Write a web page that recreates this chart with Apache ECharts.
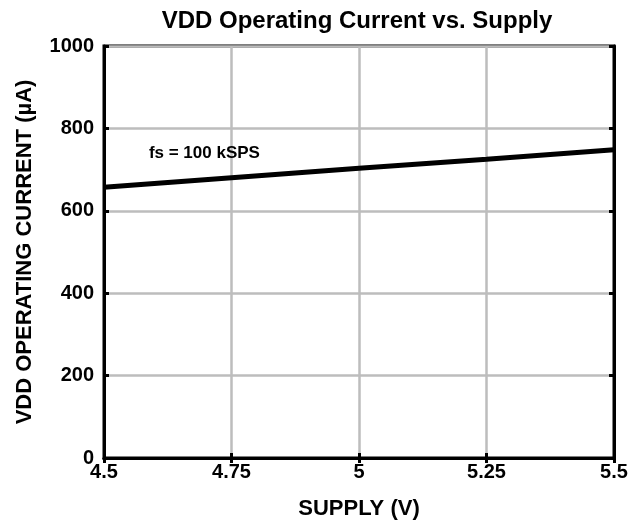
<!DOCTYPE html>
<html>
<head>
<meta charset="utf-8">
<script src="https://cdn.jsdelivr.net/npm/echarts@6/dist/echarts.min.js"></script>
<style>
  html, body { margin: 0; padding: 0; background: #fff; }
  #main { width: 635px; height: 527px; }
</style>
</head>
<body>
<div id="main"></div>
<script>
// supply voltage (V) and VDD operating current (uA)
var supplyV = [4.5, 4.75, 5, 5.25, 5.5];
var currentUA = [657, 680, 703, 725, 748];
var noteText = "fs = 100 kSPS";
var notePos = [4.588, 740];

var chart = echarts.init(document.getElementById("main"));
var font = "Liberation Sans, Arial, sans-serif";

var points = supplyV.map(function (v, i) { return [v, currentUA[i]]; });

var option = {
  animation: false,
  backgroundColor: "#fff",
  title: {
    text: "VDD Operating Current vs. Supply",
    left: 352,
    textAlign: "center",
    top: 4,
    textStyle: { fontFamily: font, fontWeight: "bold", fontSize: 24, color: "#000" }
  },
  grid: {
    left: 104, right: 21, top: 46, bottom: 69,
    show: true, borderColor: "#000", borderWidth: 3
  },
  xAxis: [{
    type: "value",
    min: 4.5, max: 5.5, interval: 0.25,
    name: "SUPPLY (V)",
    nameLocation: "middle",
    nameGap: 40,
    nameTextStyle: { fontFamily: font, fontWeight: "bold", fontSize: 22, color: "#000" },
    axisLine: { lineStyle: { color: "#000", width: 3 } },
    axisTick: { inside: true, length: 5, lineStyle: { color: "#000", width: 3 } },
    axisLabel: { fontFamily: font, fontWeight: "bold", fontSize: 20, color: "#000", margin: 4 },
    splitLine: { lineStyle: { color: "#bdbdbd", width: 2.5 } }
  }, {
    type: "value", position: "top",
    min: 4.5, max: 5.5, interval: 0.25,
    axisLine: { lineStyle: { color: "#000", width: 3 } },
    axisTick: { inside: true, length: 5, lineStyle: { color: "#000", width: 3 } },
    axisLabel: { show: false }, splitLine: { show: false }
  }],
  yAxis: [{
    type: "value",
    min: 0, max: 1000, interval: 200,
    name: "VDD OPERATING CURRENT (\u00b5A)",
    nameLocation: "middle",
    nameGap: 68,
    nameTextStyle: { fontFamily: font, fontWeight: "bold", fontSize: 22, color: "#000" },
    axisLine: { show: true, lineStyle: { color: "#000", width: 3 } },
    axisTick: { show: true, inside: true, length: 5, lineStyle: { color: "#000", width: 3 } },
    axisLabel: {
      fontFamily: font, fontWeight: "bold", fontSize: 20, color: "#000", margin: 10,
      formatter: function (v) { return String(v); }
    },
    splitLine: { lineStyle: { color: "#bdbdbd", width: 2.5 } }
  }, {
    type: "value", position: "right",
    min: 0, max: 1000, interval: 200,
    axisLine: { show: true, lineStyle: { color: "#000", width: 3 } },
    axisTick: { show: true, inside: true, length: 5, lineStyle: { color: "#000", width: 3 } },
    axisLabel: { show: false }, splitLine: { show: false }
  }],
  series: [{
    type: "line",
    data: points,
    showSymbol: false,
    lineStyle: { color: "#000", width: 5 },
    markPoint: {
      symbol: "circle", symbolSize: 0,
      label: {
        show: true, position: "right", distance: 0,
        formatter: noteText,
        fontFamily: font, fontWeight: "bold", fontSize: 17, color: "#000"
      },
      data: [{ coord: notePos }]
    }
  }]
};

chart.setOption(option);
</script>
</body>
</html>
